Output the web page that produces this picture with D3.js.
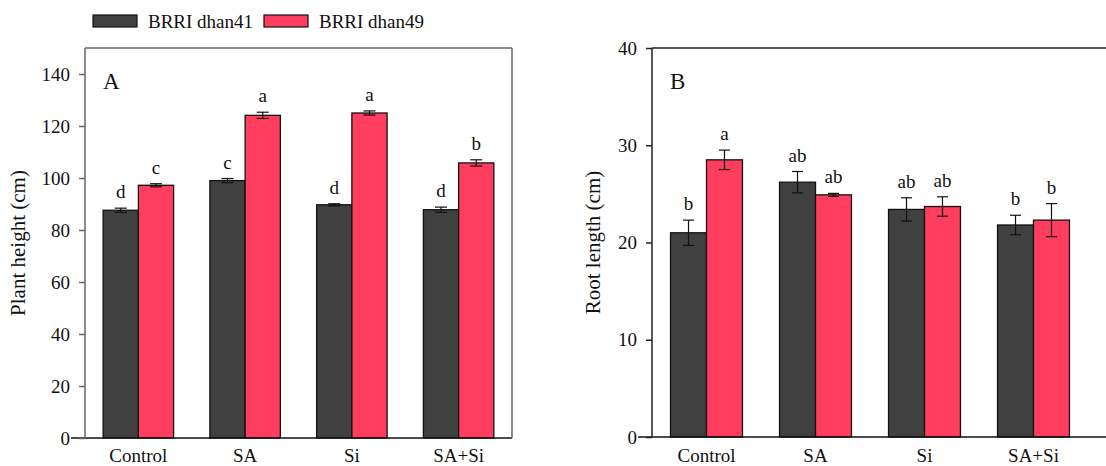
<!DOCTYPE html>
<html>
<head>
<meta charset="utf-8">
<script src="https://cdn.jsdelivr.net/npm/d3@7"></script>
<style>
  body { margin: 0; background: #fff; }
  svg { display: block; font-family: "Liberation Serif", "Times New Roman", serif; }
</style>
</head>
<body>
<div id="chart"></div>
<script>
const treatments = ["Control", "SA", "Si", "SA+Si"];
const varieties = ["BRRI dhan41", "BRRI dhan49"];
const colors = ["#404040", "#ff3d5f"];

// Plant height (cm)
const heightDhan41 = [87.6, 99.0, 89.7, 87.8];
const heightDhan49 = [97.2, 124.1, 125.0, 105.8];
const heightErr41 = [0.8, 0.8, 0.4, 1.0];
const heightErr49 = [0.6, 1.2, 0.8, 1.2];
const heightLetters41 = ["d", "c", "d", "d"];
const heightLetters49 = ["c", "a", "a", "b"];
const heightTicks = [0, 20, 40, 60, 80, 100, 120, 140];

// Root length (cm)
const rootDhan41 = [21.0, 26.2, 23.4, 21.8];
const rootDhan49 = [28.5, 24.9, 23.7, 22.3];
const rootErr41 = [1.3, 1.1, 1.2, 1.0];
const rootErr49 = [1.0, 0.15, 1.0, 1.7];
const rootLetters41 = ["b", "ab", "ab", "b"];
const rootLetters49 = ["a", "ab", "ab", "b"];
const rootTicks = [0, 10, 20, 30, 40];

const W = 1106, H = 466;

const svg = d3.select("#chart")
    .append("svg")
    .attr("width", W)
    .attr("height", H);

function drawPanel(opts) {
    const {left, right, top, bottom, yMax, ticks, vals, errs, letters, title, label, labelX, frameColor, fullBox, capW} = opts;

    const x = d3.scaleBand()
        .domain(treatments)
        .range([left, right])
        .paddingInner(0.34)
        .paddingOuter(0.17);

    const xSub = d3.scaleBand()
        .domain(varieties)
        .range([0, x.bandwidth()]);

    const y = d3.scaleLinear()
        .domain([0, yMax])
        .range([bottom, top]);

    const g = svg.append("g");

    // bars
    const rows = [];
    treatments.forEach((t, i) => {
        varieties.forEach((v, j) => {
            rows.push({t, v, j, value: vals[j][i], err: errs[j][i], letter: letters[j][i]});
        });
    });

    g.selectAll("rect.bar")
        .data(rows)
        .enter()
        .append("rect")
        .attr("class", "bar")
        .attr("x", d => x(d.t) + xSub(d.v))
        .attr("y", d => y(d.value))
        .attr("width", xSub.bandwidth())
        .attr("height", d => y(0) - y(d.value))
        .style("fill", d => colors[d.j])
        .style("stroke", "#111")
        .style("stroke-width", 1.3);

    // error bars
    const eb = g.selectAll("g.err")
        .data(rows)
        .enter()
        .append("g")
        .attr("class", "err")
        .attr("transform", d => `translate(${x(d.t) + xSub(d.v) + xSub.bandwidth() / 2},0)`)
        .style("stroke", "#111")
        .style("stroke-width", 1.2);
    eb.append("line")
        .attr("y1", d => y(d.value - d.err))
        .attr("y2", d => y(d.value + d.err));
    eb.append("line")
        .attr("x1", -capW / 2).attr("x2", capW / 2)
        .attr("y1", d => y(d.value + d.err))
        .attr("y2", d => y(d.value + d.err));
    eb.append("line")
        .attr("x1", -capW / 2).attr("x2", capW / 2)
        .attr("y1", d => y(d.value - d.err))
        .attr("y2", d => y(d.value - d.err));

    // significance letters
    g.selectAll("text.sig")
        .data(rows)
        .enter()
        .append("text")
        .attr("class", "sig")
        .attr("x", d => x(d.t) + xSub(d.v) + xSub.bandwidth() / 2)
        .attr("y", d => y(d.value + d.err) - 10)
        .attr("text-anchor", "middle")
        .style("font-size", "19px")
        .style("fill", "#111")
        .text(d => d.letter);

    // frame
    const frameRight = fullBox ? right : W + 5;
    g.append("line")
        .attr("x1", left).attr("x2", frameRight)
        .attr("y1", top).attr("y2", top)
        .style("stroke", frameColor).style("stroke-width", 1.5);
    g.append("line")
        .attr("x1", left - 14).attr("x2", frameRight)
        .attr("y1", bottom).attr("y2", bottom)
        .style("stroke", "#111").style("stroke-width", 1.5);
    if (fullBox) {
        g.append("line")
            .attr("x1", right).attr("x2", right)
            .attr("y1", top).attr("y2", bottom)
            .style("stroke", frameColor).style("stroke-width", 1.5);
    }

    // y axis
    const yAxis = g.append("g")
        .attr("transform", `translate(${left},0)`)
        .call(d3.axisLeft(y).tickValues(ticks).tickSize(6).tickPadding(9).tickFormat(d3.format("d")));
    yAxis.select(".domain")
        .attr("d", `M0,${top}V${bottom}`)
        .style("stroke", frameColor).style("stroke-width", 1.5);
    yAxis.selectAll(".tick line").style("stroke", frameColor).style("stroke-width", 1.5);
    yAxis.selectAll(".tick text")
        .style("font-family", "Liberation Serif, serif")
        .style("font-size", "19px")
        .style("fill", "#111");

    // x labels
    g.selectAll("text.xlab")
        .data(treatments)
        .enter()
        .append("text")
        .attr("class", "xlab")
        .attr("x", d => x(d) + x.bandwidth() / 2)
        .attr("y", 462)
        .attr("text-anchor", "middle")
        .style("font-size", "19px")
        .style("fill", "#111")
        .text(d => d);

    // panel title
    g.append("text")
        .attr("x", left + 18)
        .attr("y", top + 41)
        .style("font-size", "23px")
        .style("fill", "#111")
        .text(title);

    // axis label
    g.append("text")
        .attr("transform", `translate(${labelX},${(top + bottom) / 2}) rotate(-90)`)
        .attr("text-anchor", "middle")
        .style("font-size", "21px")
        .style("fill", "#111")
        .text(label);
}

drawPanel({
    left: 85, right: 512, top: 48, bottom: 438, yMax: 150,
    ticks: heightTicks,
    vals: [heightDhan41, heightDhan49],
    errs: [heightErr41, heightErr49],
    letters: [heightLetters41, heightLetters49],
    title: "A", label: "Plant height (cm)", labelX: 25,
    frameColor: "#666", fullBox: true, capW: 12
});

drawPanel({
    left: 652, right: 1088, top: 48, bottom: 437, yMax: 40,
    ticks: rootTicks,
    vals: [rootDhan41, rootDhan49],
    errs: [rootErr41, rootErr49],
    letters: [rootLetters41, rootLetters49],
    title: "B", label: "Root length (cm)", labelX: 600,
    frameColor: "#222", fullBox: false, capW: 11
});

// legend
const legend = svg.append("g");
const legendX = [93, 264];
varieties.forEach((v, i) => {
    legend.append("rect")
        .attr("x", legendX[i])
        .attr("y", 15)
        .attr("width", 44)
        .attr("height", 12)
        .style("fill", colors[i])
        .style("stroke", "#111")
        .style("stroke-width", 1.2);
    legend.append("text")
        .attr("x", legendX[i] + 55)
        .attr("y", 28)
        .style("font-size", "19px")
        .style("fill", "#111")
        .text(v);
});
</script>
</body>
</html>
